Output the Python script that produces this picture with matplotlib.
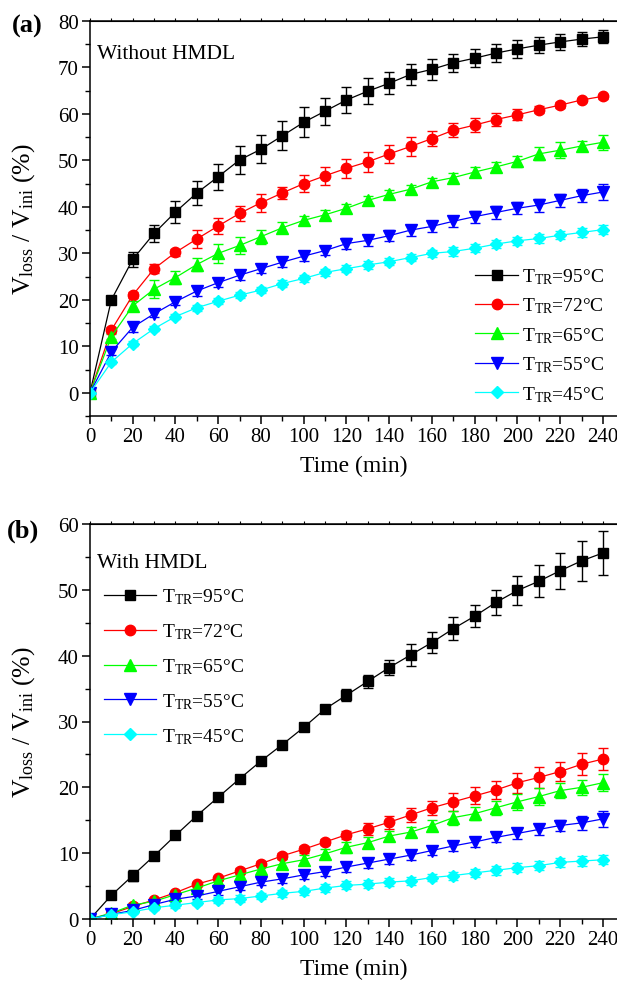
import matplotlib
matplotlib.use('Agg')
import matplotlib.pyplot as plt
from matplotlib.lines import Line2D
from matplotlib.ticker import MultipleLocator

plt.rcParams['font.family'] = ['Liberation Serif', 'DejaVu Serif']
plt.rcParams['mathtext.fontset'] = 'custom'
plt.rcParams['mathtext.rm'] = 'Liberation Serif'
plt.rcParams['mathtext.it'] = 'Liberation Serif:italic'
plt.rcParams['mathtext.bf'] = 'Liberation Serif:bold'

time = [0, 10, 20, 30, 40, 50, 60, 70, 80, 90, 100, 110, 120,
        130, 140, 150, 160, 170, 180, 190, 200, 210, 220, 230, 240]

labels = [r'T$_{\mathrm{TR}}$=95°C', r'T$_{\mathrm{TR}}$=72°C', r'T$_{\mathrm{TR}}$=65°C',
          r'T$_{\mathrm{TR}}$=55°C', r'T$_{\mathrm{TR}}$=45°C']

# (a) without HMDL
a95 = [0, 20.0, 28.7, 34.3, 38.9, 43.0, 46.5, 50.1, 52.4, 55.3, 58.2, 60.6, 63.0,
       64.9, 66.6, 68.5, 69.6, 71.0, 72.0, 73.1, 74.0, 74.8, 75.5, 76.1, 76.6]
a95_err = [0.5, 0.5, 1.6, 1.9, 2.4, 2.5, 2.8, 3.0, 3.0, 3.1, 3.2, 2.9, 2.8,
           2.8, 2.4, 2.2, 2.2, 2.0, 1.9, 1.9, 1.9, 1.7, 1.7, 1.5, 1.4]
a72 = [0, 13.5, 21.0, 26.7, 30.2, 33.1, 35.9, 38.6, 40.9, 43.0, 45.0, 46.7, 48.3,
       49.7, 51.4, 53.0, 54.7, 56.5, 57.6, 58.8, 59.8, 60.9, 61.9, 63.0, 63.8]
a72_err = [0.5, 0.6, 0.6, 1.0, 0.8, 1.9, 1.8, 1.6, 1.9, 1.3, 1.9, 1.9, 2.1,
           2.1, 2.0, 2.0, 1.7, 1.5, 1.5, 1.4, 1.2, 0.8, 0.6, 0.5, 0.5]
a65 = [0, 12.1, 18.7, 22.3, 24.8, 27.6, 30.0, 31.7, 33.6, 35.5, 37.1, 38.3, 39.7,
       41.4, 42.7, 43.8, 45.4, 46.3, 47.5, 48.6, 49.8, 51.4, 52.2, 53.1, 53.9]
a65_err = [0.5, 0.6, 1.0, 1.9, 1.3, 1.5, 2.0, 1.9, 1.5, 1.2, 1.0, 1.0, 1.0,
           0.9, 0.9, 0.9, 0.9, 1.0, 1.0, 1.0, 1.2, 1.4, 1.7, 1.1, 1.6]
a55 = [0, 8.8, 14.1, 17.0, 19.6, 21.9, 23.7, 25.3, 26.7, 28.1, 29.4, 30.6, 32.1,
       32.8, 33.8, 35.0, 35.8, 36.9, 37.9, 38.8, 39.7, 40.4, 41.4, 42.4, 43.2]
a55_err = [0.5, 0.6, 1.0, 0.8, 0.7, 1.0, 1.0, 1.0, 1.0, 1.0, 1.0, 1.0, 1.2,
           1.2, 1.2, 1.2, 1.2, 1.2, 1.3, 1.3, 1.3, 1.4, 1.4, 1.4, 1.7]
a45 = [0, 6.6, 10.6, 13.8, 16.4, 18.3, 19.7, 21.0, 22.1, 23.5, 24.6, 25.9, 26.7,
       27.5, 28.2, 29.1, 30.0, 30.4, 31.1, 32.0, 32.7, 33.2, 33.9, 34.5, 35.1]
a45_err = [0.5, 0.5, 0.6, 0.6, 0.6, 0.6, 0.6, 0.7, 0.7, 0.7, 0.7, 0.8, 0.8,
           0.8, 0.8, 0.8, 0.8, 0.9, 0.9, 0.9, 0.9, 0.9, 0.9, 0.9, 1.0]

# (b) with HMDL
b95 = [0, 3.6, 6.6, 9.6, 12.7, 15.7, 18.5, 21.3, 24.0, 26.5, 29.1, 31.9, 34.0,
       36.1, 38.2, 40.1, 42.0, 44.1, 46.0, 48.1, 49.9, 51.3, 52.9, 54.4, 55.6]
b95_err = [0.3, 0.3, 0.8, 0.3, 0.3, 0.3, 0.3, 0.3, 0.3, 0.3, 0.3, 0.5, 0.9,
           1.0, 1.1, 1.7, 1.6, 1.7, 1.7, 1.85, 2.2, 2.4, 2.7, 3.0, 3.3]
b72 = [0, 0.8, 1.9, 2.9, 4.0, 5.3, 6.2, 7.3, 8.4, 9.6, 10.6, 11.7, 12.8,
       13.7, 14.7, 15.8, 16.9, 17.8, 18.7, 19.6, 20.7, 21.5, 22.4, 23.5, 24.3]
b72_err = [0.2, 0.2, 0.3, 0.3, 0.3, 0.3, 0.3, 0.4, 0.4, 0.5, 0.5, 0.5, 0.6,
           0.9, 1.0, 1.1, 1.1, 1.4, 1.3, 1.4, 1.5, 1.55, 1.5, 1.65, 1.65]
b65 = [0, 0.9, 2.1, 2.7, 3.7, 4.7, 5.8, 6.7, 7.6, 8.4, 9.0, 9.9, 10.9,
       11.6, 12.6, 13.2, 14.2, 15.4, 16.0, 16.9, 17.8, 18.6, 19.5, 20.0, 20.7]
b65_err = [0.2, 0.3, 0.4, 0.4, 0.5, 0.5, 0.6, 0.6, 0.6, 0.7, 0.7, 0.7, 0.8,
           0.8, 0.8, 0.8, 0.8, 1.05, 1.0, 1.1, 1.2, 1.3, 1.15, 1.15, 1.3]
b55 = [0, 0.7, 1.3, 2.2, 3.0, 3.5, 4.2, 4.9, 5.6, 6.1, 6.7, 7.2, 7.9,
       8.5, 9.1, 9.7, 10.4, 11.1, 11.7, 12.4, 13.0, 13.6, 14.2, 14.6, 15.2]
b55_err = [0.2, 0.3, 0.3, 0.4, 0.4, 0.5, 0.5, 0.5, 0.5, 0.6, 0.6, 0.7, 0.7,
           0.7, 0.7, 0.7, 0.7, 0.7, 0.7, 0.7, 0.8, 0.8, 0.8, 1.05, 1.2]
b45 = [0, 0.65, 1.1, 1.7, 2.1, 2.5, 2.9, 3.1, 3.5, 3.9, 4.2, 4.7, 5.1,
       5.3, 5.6, 5.8, 6.3, 6.6, 7.0, 7.4, 7.8, 8.1, 8.6, 8.8, 9.0]
b45_err = [0.2, 0.3, 0.3, 0.3, 0.4, 0.4, 0.4, 0.5, 0.5, 0.5, 0.5, 0.6, 0.6,
           0.6, 0.6, 0.6, 0.6, 0.6, 0.6, 0.7, 0.7, 0.7, 0.7, 0.7, 0.7]

colors = ['black', 'red', '#00FF00', 'blue', 'cyan']
markers = ['s', 'o', '^', 'v', 'D']
msizes = [7.5, 7.5, 8, 8, 6.5]

W, H = 617, 987
fig = plt.figure(figsize=(W / 100, H / 100), dpi=100)


def px_axes(left, top, right, bottom):
    return fig.add_axes([left / W, 1 - bottom / H, (right - left) / W, (bottom - top) / H])


def draw_panel(ax, series, errors, ylim, ymajor):
    for y, e, c, m, ms in zip(series, errors, colors, markers, msizes):
        ax.errorbar(time, y, yerr=e, color=c, marker=m, markersize=ms, lw=0.9,
                    elinewidth=1.0, capsize=3.5, capthick=1.0)
    ax.set_xlim(0, 246.6)
    ax.set_ylim(*ylim)
    ax.xaxis.set_major_locator(MultipleLocator(20))
    ax.xaxis.set_minor_locator(MultipleLocator(10))
    ax.yaxis.set_major_locator(MultipleLocator(ymajor))
    ax.yaxis.set_minor_locator(MultipleLocator(ymajor / 2))
    ax.spines['right'].set_visible(False)
    for s in ['left', 'bottom', 'top']:
        ax.spines[s].set_linewidth(1.1)
    ax.tick_params(which='major', direction='out', length=6, width=1.1, labelsize=15, pad=2)
    ax.tick_params(which='minor', direction='out', length=3.5, width=1.0)
    top = ax.secondary_xaxis('top')
    top.xaxis.set_major_locator(MultipleLocator(10))
    top.tick_params(direction='out', length=2, width=0.8, labeltop=False)
    ax.set_xlabel('Time (min)', fontsize=17, labelpad=6)
    ax.set_ylabel(r'V$_{\mathrm{loss}}$ / V$_{\mathrm{ini}}$ (%)', fontsize=18.5)
    ax.yaxis.set_label_coords(-0.1, 0.5)


# legend entries show line + marker only (no error bars)
handles = [Line2D([], [], color=c, marker=m, markersize=ms, lw=0.9)
           for c, m, ms in zip(colors, markers, msizes)]

ax1 = px_axes(90, 22, 617, 417)
draw_panel(ax1, [a95, a72, a65, a55, a45], [a95_err, a72_err, a65_err, a55_err, a45_err],
           (-5, 80), 10)
ax1.text(0.013, 0.906, 'Without HMDL', transform=ax1.transAxes, fontsize=15.5, va='baseline')
ax1.legend(handles, labels, loc='center left', bbox_to_anchor=(0.731, 0.205), frameon=False,
           fontsize=14, handlelength=2.2, handletextpad=0.2, labelspacing=0.5,
           borderpad=0, borderaxespad=0)

ax2 = px_axes(90, 525, 617, 920)
draw_panel(ax2, [b95, b72, b65, b55, b45], [b95_err, b72_err, b65_err, b55_err, b45_err],
           (0, 60), 10)
ax2.text(0.013, 0.890, 'With HMDL', transform=ax2.transAxes, fontsize=15.5, va='baseline')
ax2.legend(handles, labels, loc='center left', bbox_to_anchor=(0.027, 0.64), frameon=False,
           fontsize=14, handlelength=2.65, handletextpad=0.3, labelspacing=0.78,
           borderpad=0, borderaxespad=0)

fig.text(12 / W, 1 - 33 / H, '(a)', fontsize=19, fontweight='bold', va='baseline')
fig.text(7 / W, 1 - 538 / H, '(b)', fontsize=19, fontweight='bold', va='baseline')

fig.savefig('out.png', dpi=100)
